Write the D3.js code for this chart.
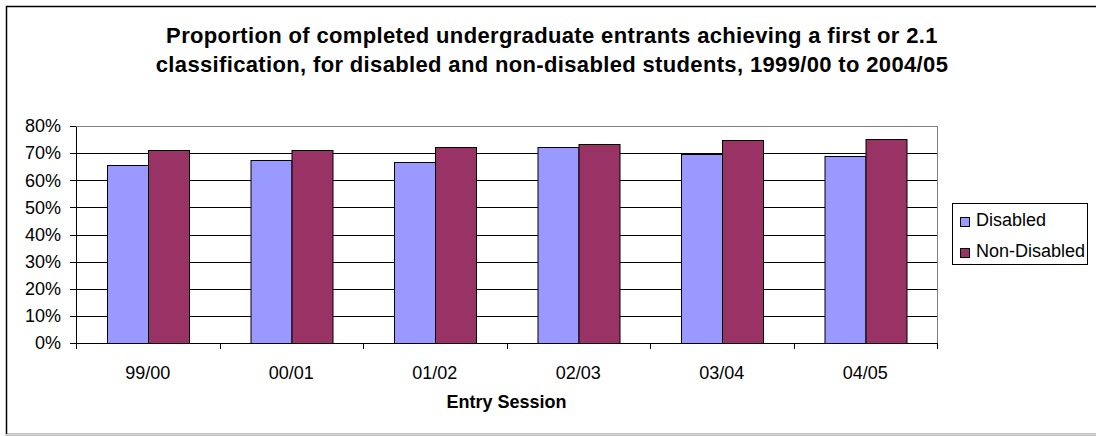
<!DOCTYPE html>
<meta charset="utf-8">
<style>
body { margin: 0; background: #fff; }
svg { display: block; font-family: "Liberation Sans", Arial, sans-serif; }
.axis path, .axis line { stroke: #000; shape-rendering: crispEdges; }
.axis text { font-size: 18px; fill: #000; }
.grid line { stroke: #000; shape-rendering: crispEdges; }
</style>
<body>
<svg width="1096" height="436"></svg>
<script src="https://d3js.org/d3.v7.min.js"></script>
<script>

var sessions = ["99/00", "00/01", "01/02", "02/03", "03/04", "04/05"];
var disabled = [65.8, 67.3, 66.8, 72.2, 69.8, 69.0];
var nonDisabled = [71.0, 71.0, 72.1, 73.3, 74.8, 75.3];
var seriesNames = ["Disabled", "Non-Disabled"];
var seriesColors = ["#9999FF", "#993366"];
var yTicks = [0, 10, 20, 30, 40, 50, 60, 70, 80];

var margin = {top: 126, right: 159, bottom: 93, left: 76},
    width = 1096 - margin.left - margin.right,
    height = 436 - margin.top - margin.bottom;

var svg = d3.select("svg");

// chart border
svg.append("rect")
  .attr("x", 6.5).attr("y", 6.5)
  .attr("width", 1200).attr("height", 428)
  .attr("fill", "none")
  .attr("stroke", "#000")
  .attr("stroke-width", 1.5);
svg.append("line")
  .attr("x1", 6).attr("x2", 1096)
  .attr("y1", 434.5).attr("y2", 434.5)
  .attr("stroke", "#d8d8d8");

svg.append("text")
  .attr("x", 552).attr("y", 43)
  .attr("text-anchor", "middle")
  .style("font-size", "22px").style("font-weight", "bold")
  .style("letter-spacing", "0.35px")
  .text("Proportion of completed undergraduate entrants achieving a first or 2.1");
svg.append("text")
  .attr("x", 552).attr("y", 72)
  .attr("text-anchor", "middle")
  .style("font-size", "22px").style("font-weight", "bold")
  .style("letter-spacing", "0.35px")
  .text("classification, for disabled and non-disabled students, 1999/00 to 2004/05");

var g = svg.append("g")
  .attr("transform", "translate(" + margin.left + "," + margin.top + ")");

var x0 = d3.scaleBand().domain(sessions).range([0, width]).paddingInner(0).paddingOuter(0);
var barW = x0.bandwidth() / 3.5;
var y = d3.scaleLinear().domain([0, 80]).range([height, 0]);

// gridlines
g.append("g").attr("class", "grid")
  .selectAll("line").data(yTicks.slice(1, -1))
  .enter().append("line")
  .attr("x1", 0).attr("x2", width)
  .attr("y1", function(d) { return Math.round(y(d)) + 0.5; })
  .attr("y2", function(d) { return Math.round(y(d)) + 0.5; });

// plot area border (top and right)
g.append("path")
  .attr("d", "M0," + (Math.round(y(80)) + 0.5) + "H" + (width + 0.5) + "V" + height)
  .attr("fill", "none")
  .attr("stroke", "#808080")
  .style("shape-rendering", "crispEdges");

var data = sessions.map(function(s, i) { return {s: s, v: [disabled[i], nonDisabled[i]]}; });

var groups = g.selectAll(".grp").data(data).enter().append("g")
  .attr("class", "grp")
  .attr("transform", function(d) { return "translate(" + x0(d.s) + ",0)"; });

groups.selectAll("rect").data(function(d) { return d.v; })
  .enter().append("rect")
  .attr("x", function(d, i) { return Math.round(barW * 0.75 + i * barW) + 0.5; })
  .attr("width", Math.round(barW))
  .attr("y", function(d) { return Math.round(y(d)) + 0.5; })
  .attr("height", function(d) { return height - Math.round(y(d)); })
  .attr("fill", function(d, i) { return seriesColors[i]; })
  .attr("stroke", "#000")
  .attr("stroke-width", 1);

// axes
var yAxis = d3.axisLeft(y).tickValues(yTicks).tickSize(6).tickPadding(9)
  .tickFormat(function(d) { return d + "%"; });
var gY = g.append("g").attr("class", "axis").call(yAxis);
gY.select(".domain").attr("d", "M0.5," + height + "V" + (Math.round(y(80)) + 0.5));

var xAxis = d3.axisBottom(x0).tickSize(0).tickPadding(23);
var gX = g.append("g").attr("class", "axis")
  .attr("transform", "translate(0," + height + ")")
  .call(xAxis);
gX.select(".domain").attr("d", "M0,0.5H" + width);
gX.selectAll(".tick text").attr("dy", "0.71em");

// x ticks between categories
gX.selectAll(".sep").data(d3.range(sessions.length + 1))
  .enter().append("line")
  .attr("class", "sep")
  .attr("x1", function(d) { return Math.round(d * x0.step()) + 0.5; })
  .attr("x2", function(d) { return Math.round(d * x0.step()) + 0.5; })
  .attr("y1", 0).attr("y2", 6);

g.append("text")
  .attr("x", width / 2).attr("y", height + 65)
  .attr("text-anchor", "middle")
  .style("font-size", "18px").style("font-weight", "bold")
  .text("Entry Session");

// legend
var lg = svg.append("g").attr("transform", "translate(952,203)");
lg.append("rect")
  .attr("x", 0.5).attr("y", 0.5)
  .attr("width", 135).attr("height", 61)
  .attr("fill", "#fff").attr("stroke", "#000");
var items = lg.selectAll(".item").data(seriesNames).enter().append("g")
  .attr("class", "item")
  .attr("transform", function(d, i) { return "translate(8," + (14 + i * 31) + ")"; });
items.append("rect")
  .attr("x", 0.5).attr("y", 0.5)
  .attr("width", 9).attr("height", 9)
  .attr("fill", function(d, i) { return seriesColors[i]; })
  .attr("stroke", "#000");
items.append("text")
  .attr("x", 16).attr("y", 9)
  .style("font-size", "18px")
  .text(function(d) { return d; });

</script>
</body>
